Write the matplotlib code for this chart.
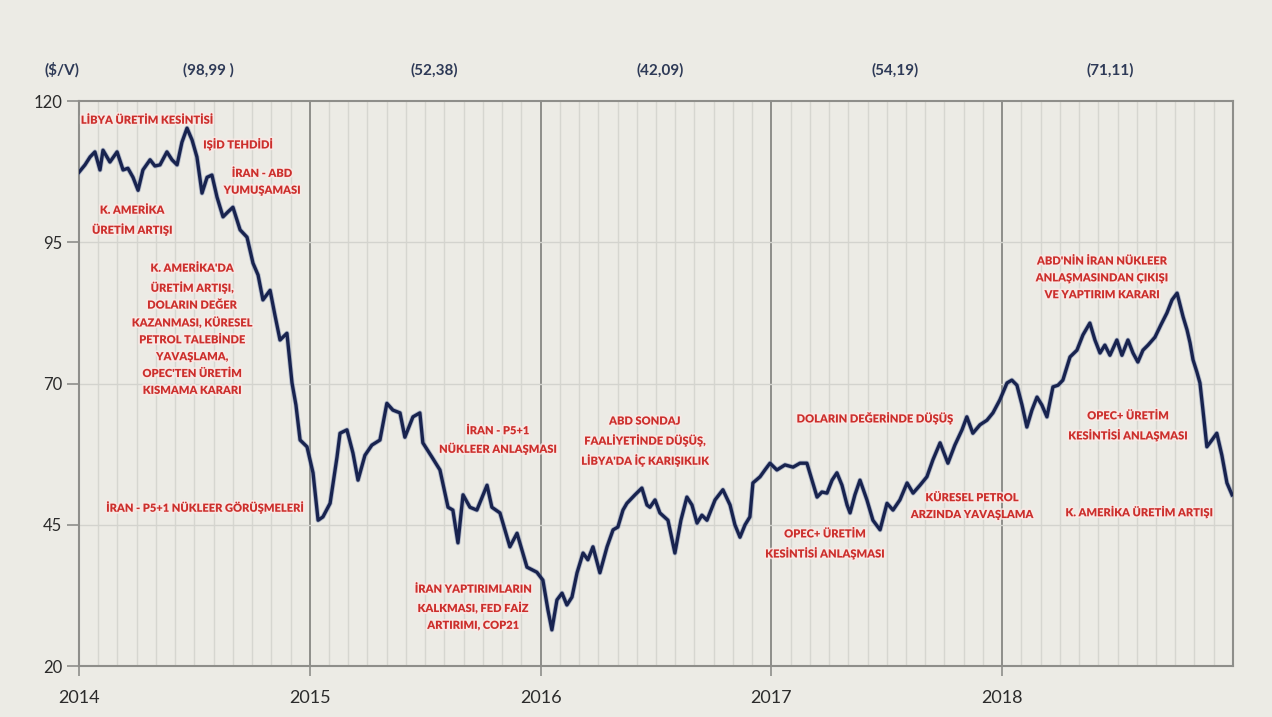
import matplotlib.pyplot as plt
import matplotlib.patheffects as pe
import numpy as np

# Brent price ($/barrel)
years = [2014.000, 2014.026, 2014.048, 2014.069, 2014.091, 2014.104, 2014.134, 2014.165,
         2014.191, 2014.212, 2014.234, 2014.256, 2014.277, 2014.308, 2014.329, 2014.351,
         2014.381, 2014.403, 2014.425, 2014.446, 2014.468, 2014.490, 2014.511, 2014.533,
         2014.555, 2014.576, 2014.598, 2014.624, 2014.646, 2014.667, 2014.698, 2014.728,
         2014.754, 2014.776, 2014.797, 2014.828, 2014.849, 2014.871, 2014.901, 2014.923,
         2014.940, 2014.958, 2014.988, 2015.014, 2015.036, 2015.057, 2015.088, 2015.118,
         2015.131, 2015.161, 2015.187, 2015.209, 2015.239, 2015.269, 2015.304, 2015.334,
         2015.360, 2015.391, 2015.412, 2015.447, 2015.477, 2015.490, 2015.529, 2015.564,
         2015.599, 2015.620, 2015.642, 2015.664, 2015.694, 2015.724, 2015.768, 2015.789,
         2015.824, 2015.867, 2015.898, 2015.941, 2015.984, 2016.010, 2016.032, 2016.049,
         2016.071, 2016.093, 2016.114, 2016.136, 2016.158, 2016.184, 2016.205, 2016.227,
         2016.257, 2016.288, 2016.314, 2016.335, 2016.357, 2016.374, 2016.409, 2016.439,
         2016.461, 2016.474, 2016.496, 2016.517, 2016.552, 2016.582, 2016.608, 2016.634,
         2016.656, 2016.678, 2016.699, 2016.721, 2016.756, 2016.790, 2016.821, 2016.842,
         2016.864, 2016.886, 2016.907, 2016.920, 2016.951, 2016.972, 2016.994, 2017.024,
         2017.059, 2017.094, 2017.124, 2017.154, 2017.176, 2017.198, 2017.219, 2017.241,
         2017.263, 2017.284, 2017.306, 2017.328, 2017.341, 2017.362, 2017.384, 2017.414,
         2017.440, 2017.471, 2017.501, 2017.527, 2017.557, 2017.588, 2017.614, 2017.644,
         2017.674, 2017.700, 2017.731, 2017.765, 2017.795, 2017.826, 2017.847, 2017.873,
         2017.904, 2017.934, 2017.960, 2017.990, 2018.021, 2018.042, 2018.064, 2018.086,
         2018.107, 2018.129, 2018.151, 2018.172, 2018.194, 2018.220, 2018.242, 2018.263,
         2018.294, 2018.324, 2018.350, 2018.380, 2018.402, 2018.424, 2018.445, 2018.467,
         2018.497, 2018.519, 2018.545, 2018.567, 2018.588, 2018.610, 2018.632, 2018.662,
         2018.688, 2018.714, 2018.736, 2018.758, 2018.771, 2018.784, 2018.801, 2018.814,
         2018.827, 2018.844, 2018.857, 2018.870, 2018.887, 2018.909, 2018.930, 2018.952,
         2018.974, 2018.996]
brent = [107.4, 108.7, 110.1, 111.0, 107.8, 111.3, 109.2, 111.0,
         107.8, 108.1, 106.5, 104.2, 107.8, 109.6, 108.5, 108.7,
         111.0, 109.6, 108.7, 112.7, 115.2, 113.1, 110.1, 103.7,
         106.5, 106.9, 103.0, 99.5, 100.4, 101.2, 97.2, 95.9,
         91.3, 89.2, 84.8, 86.5, 82.1, 77.7, 78.9, 70.1,
         66.2, 60.0, 58.8, 54.2, 45.8, 46.4, 48.8, 57.0,
         61.2, 61.8, 57.7, 52.9, 57.3, 59.1, 60.0, 66.5,
         65.3, 64.8, 60.5, 64.1, 64.8, 59.5, 57.0, 54.7,
         48.1, 47.6, 41.8, 50.3, 48.1, 47.6, 52.0, 48.1,
         47.1, 41.1, 43.5, 37.5, 36.6, 35.2, 29.9, 26.4,
         31.7, 32.9, 30.8, 32.2, 36.5, 40.0, 38.8, 41.1,
         36.5, 41.1, 44.1, 44.6, 47.6, 48.8, 50.3, 51.5,
         48.5, 48.1, 49.4, 47.1, 45.8, 40.0, 45.8, 49.9,
         48.5, 45.3, 46.7, 45.8, 49.4, 51.2, 48.5, 45.0,
         42.8, 45.0, 46.4, 52.4, 53.5, 54.7, 55.9, 54.7,
         55.6, 55.2, 55.9, 55.9, 52.9, 49.9, 50.8, 50.6,
         52.9, 54.2, 52.0, 48.5, 47.1, 50.3, 52.9, 49.4,
         45.8, 44.1, 48.8, 47.6, 49.4, 52.4, 50.6, 52.0,
         53.5, 56.5, 59.5, 55.9, 59.1, 61.8, 64.1, 61.2,
         62.7, 63.5, 64.8, 67.1, 70.1, 70.6, 69.7, 66.2,
         62.3, 65.3, 67.6, 66.2, 64.1, 69.4, 69.7, 70.6,
         74.7, 75.9, 78.6, 80.7, 77.7, 75.4, 76.8, 75.0,
         77.7, 75.0, 77.7, 75.4, 73.8, 75.9, 76.8, 78.2,
         80.4, 82.5, 84.8, 86.0, 83.9, 81.8, 79.5, 77.2,
         74.2, 72.0, 70.1, 65.3, 58.8, 60.0, 61.2, 57.3,
         52.4, 50.3]

year_ticks = [2014, 2015, 2016, 2017, 2018]
year_avgs = ['(98,99 )', '(52,38)', '(42,09)', '(54,19)', '(71,11)']
avg_pos = [2014.559, 2015.538, 2016.517, 2017.535, 2018.467]

notes = [
    ("LİBYA ÜRETİM KESİNTİSİ", 2014.008, 116.6, 'left'),
    ("IŞİD TEHDİDİ", 2014.689, 112.4, 'center'),
    ("İRAN - ABD\nYUMUŞAMASI", 2014.793, 105.7, 'center'),
    ("K. AMERİKA\nÜRETİM ARTIŞI", 2014.230, 98.9, 'center'),
    ("K. AMERİKA'DA\nÜRETİM ARTIŞI,\nDOLARIN DEĞER\nKAZANMASI, KÜRESEL\n"
     "PETROL TALEBİNDE\nYAVAŞLAMA,\nOPEC'TEN ÜRETİM\nKISMAMA KARARI", 2014.490, 79.6, 'center'),
    ("İRAN - P5+1 NÜKLEER GÖRÜŞMELERİ", 2014.546, 48.1, 'center'),
    ("İRAN - P5+1\nNÜKLEER ANLAŞMASI", 2015.815, 60.0, 'center'),
    ("İRAN YAPTIRIMLARIN\nKALKMASI, FED FAİZ\nARTIRIMI, COP21", 2015.707, 30.4, 'center'),
    ("ABD SONDAJ\nFAALİYETİNDE DÜŞÜŞ,\nLİBYA'DA İÇ KARIŞIKLIK", 2016.452, 59.8, 'center'),
    ("DOLARIN DEĞERİNDE DÜŞÜŞ", 2017.449, 63.9, 'center'),
    ("OPEC+ ÜRETİM\nKESİNTİSİ ANLAŞMASI", 2017.232, 41.6, 'center'),
    ("KÜRESEL PETROL\nARZINDA YAVAŞLAMA", 2017.869, 48.3, 'center'),
    ("ABD'NİN İRAN NÜKLEER\nANLAŞMASINDAN ÇIKIŞI\nVE YAPTIRIM KARARI", 2018.432, 88.7, 'center'),
    ("OPEC+ ÜRETİM\nKESİNTİSİ ANLAŞMASI", 2018.545, 62.5, 'center'),
    ("K. AMERİKA ÜRETİM ARTIŞI", 2018.593, 47.3, 'center'),
]

bg = '#ecebe5'
plt.rcParams['font.family'] = ['Lato', 'DejaVu Sans']

fig = plt.figure(figsize=(12.72, 7.17), dpi=100, facecolor=bg)
ax = fig.add_axes([0.0621, 0.0711, 0.9072, 0.788])
ax.set_facecolor(bg)

# monthly grid
for y in range(2014, 2019):
    for m in range(1, 12):
        ax.axvline(y + m / 12, color='#d6d6d0', lw=1.0, zorder=1)
for y in year_ticks[1:]:
    ax.axvline(y, color='#8e8e8a', lw=1.4, zorder=1)
for v in [45, 70, 95]:
    ax.axhline(v, color='#d3d3ce', lw=1.0, zorder=1)

ax.plot(years, brent, color='#18234f', lw=2.4, zorder=3,
        path_effects=[pe.withStroke(linewidth=3.6, foreground='#6f7fa8', alpha=0.45)])

ax.set_xlim(2014, 2019)
ax.set_ylim(20, 120)
ax.set_yticks([20, 45, 70, 95, 120])
ax.set_xticks(year_ticks)
ax.set_xticklabels([str(y) for y in year_ticks])
ax.tick_params(axis='y', length=9, width=1.2, color='#8e8e8a', labelsize=12,
               labelcolor='#2b2b2b', pad=3)
ax.tick_params(axis='x', length=7, width=1.2, color='#8e8e8a', labelsize=13,
               labelcolor='#2b2b2b', pad=10)
for s in ax.spines.values():
    s.set_color('#8e8e8a')
    s.set_linewidth(1.5)

trans = ax.get_xaxis_transform()
ax.text(-0.015, 1.055, '($/V)', transform=ax.transAxes, ha='center', va='center',
        fontsize=11, fontweight='bold', color='#2e3a57')
for xp, lab in zip(avg_pos, year_avgs):
    ax.text(xp, 1.055, lab, transform=trans, ha='center', va='center',
            fontsize=11, fontweight='bold', color='#2e3a57')

for txt, x, y, ha in notes:
    ax.text(x, y, txt, ha=ha, va='center', ma='center', fontsize=8,
            fontweight='heavy', color='#cc2f2c', linespacing=1.65, zorder=4,
            path_effects=[pe.withStroke(linewidth=2.5, foreground='#fbe9e6', alpha=0.8)])

fig.savefig('out.png', dpi=100, facecolor=bg)
